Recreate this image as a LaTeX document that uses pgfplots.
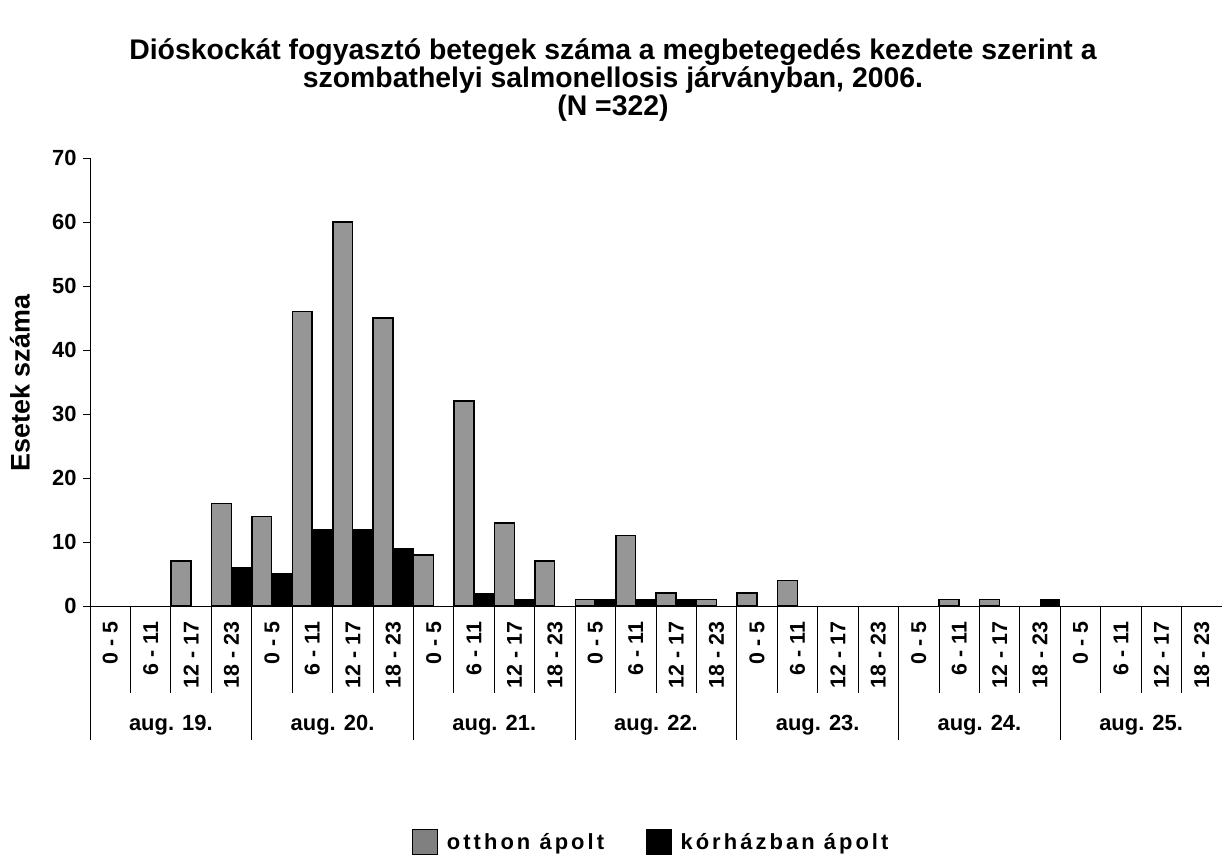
\documentclass[border=0pt]{standalone}
\usepackage{fontspec}
\setmainfont{Liberation Sans}
\newfontfamily\legfont[LetterSpace=14]{Liberation Sans}
\usepackage{pgfplots}
\usepackage{pgfplotstable}
\pgfplotsset{compat=1.18}
\definecolor{barg}{HTML}{969696}
\definecolor{legg}{HTML}{808080}
\newcommand\titlefont{\bfseries\fontsize{28.5}{26}\selectfont}
\pgfplotstableread{
x g h
0 0 0
1 0 0
2 7 0
3 16 6
4 14 5
5 46 12
6 60 12
7 45 9
8 8 0
9 32 2
10 13 1
11 7 0
12 1 1
13 11 1
14 2 1
15 1 0
16 2 0
17 4 0
18 0 0
19 0 0
20 0 0
21 1 0
22 1 0
23 0 1
24 0 0
25 0 0
26 0 0
27 0 0
}\datatable
\begin{document}
\begin{tikzpicture}
\path[use as bounding box] (0,0) rectangle (1225bp,860bp);
\node[align=center, font=\titlefont] at (613bp,780bp)
  {Dióskockát fogyasztó betegek száma a megbetegedés kezdete szerint a\\
   szombathelyi salmonellosis járványban, 2006.\\
   (N =322)};
\node[rotate=90, font=\bfseries\fontsize{27}{28}\selectfont] at (20bp,477bp) {Esetek száma};
\begin{axis}[
  at={(90bp,254bp)}, anchor=south west,
  scale only axis, width=1132bp, height=448bp,
  xmin=-0.5, xmax=27.5, ymin=0, ymax=70,
  clip=false,
  axis x line=bottom, axis y line=left,
  axis line style={-, line width=0.8bp, black},
  ytick={0,10,...,70}, tick align=outside, major tick length=7bp,
  ytick style={line width=0.8bp, black},
  /pgf/number format/assume math mode=true,
  yticklabel style={font=\bfseries\fontsize{22}{24}\selectfont, xshift=-3bp},
  xtick={0,...,27}, xtick style={draw=none},
  xticklabels={0 - 5,6 - 11,12 - 17,18 - 23,0 - 5,6 - 11,12 - 17,18 - 23,0 - 5,6 - 11,12 - 17,18 - 23,0 - 5,6 - 11,12 - 17,18 - 23,0 - 5,6 - 11,12 - 17,18 - 23,0 - 5,6 - 11,12 - 17,18 - 23,0 - 5,6 - 11,12 - 17,18 - 23},
  xticklabel style={rotate=90, anchor=east, font=\bfseries\fontsize{21.5}{24}\selectfont, xshift=-5bp},
  ybar, bar width=0.49,
  legend style={at={(0.4960,-0.527)}, anchor=center, draw=none, fill=none,
    legend columns=2, font=\legfont\bfseries\fontsize{22}{24}\selectfont,
    /tikz/every even column/.append style={column sep=40bp}},
]
\addplot[ybar, bar shift=-0.25, fill=barg, draw=black, line width=1.5bp,
  y filter/.expression={y==0 ? nan : y},
  legend image code/.code={\path[draw=none, fill=none] (0bp,0bp) -- (32bp,0bp);
    \draw[fill=legg, draw=black, line width=0.8bp] (0bp,-12.5bp) rectangle (25bp,12.5bp);}]
  table[x=x, y=g] {\datatable};
\addlegendentry{otthon ápolt}
\addplot[ybar, bar shift=0.245, fill=black, draw=black, line width=1bp,
  y filter/.expression={y==0 ? nan : y},
  legend image code/.code={\path[draw=none, fill=none] (0bp,0bp) -- (32bp,0bp);
    \draw[fill=black, draw=black, line width=0.8bp] (0bp,-12.5bp) rectangle (25bp,12.5bp);}]
  table[x=x, y=h] {\datatable};
\addlegendentry{kórházban ápolt}
\pgfplotsinvokeforeach{-0.5,0.5,...,26.5}{
  \draw[line width=0.8bp, black] (axis cs:#1,0) -- ([yshift=-87bp]axis cs:#1,0);
}
\pgfplotsinvokeforeach{-0.5,3.5,7.5,11.5,15.5,19.5,23.5}{
  \draw[line width=0.8bp, black] (axis cs:#1,0) -- ([yshift=-134bp]axis cs:#1,0);
}
\node[font=\bfseries\fontsize{22}{24}\selectfont] at ([yshift=-119bp]axis cs:1.5,0) {aug. 19.};
\node[font=\bfseries\fontsize{22}{24}\selectfont] at ([yshift=-119bp]axis cs:5.5,0) {aug. 20.};
\node[font=\bfseries\fontsize{22}{24}\selectfont] at ([yshift=-119bp]axis cs:9.5,0) {aug. 21.};
\node[font=\bfseries\fontsize{22}{24}\selectfont] at ([yshift=-119bp]axis cs:13.5,0) {aug. 22.};
\node[font=\bfseries\fontsize{22}{24}\selectfont] at ([yshift=-119bp]axis cs:17.5,0) {aug. 23.};
\node[font=\bfseries\fontsize{22}{24}\selectfont] at ([yshift=-119bp]axis cs:21.5,0) {aug. 24.};
\node[font=\bfseries\fontsize{22}{24}\selectfont] at ([yshift=-119bp]axis cs:25.5,0) {aug. 25.};
\end{axis}
\end{tikzpicture}
\end{document}
